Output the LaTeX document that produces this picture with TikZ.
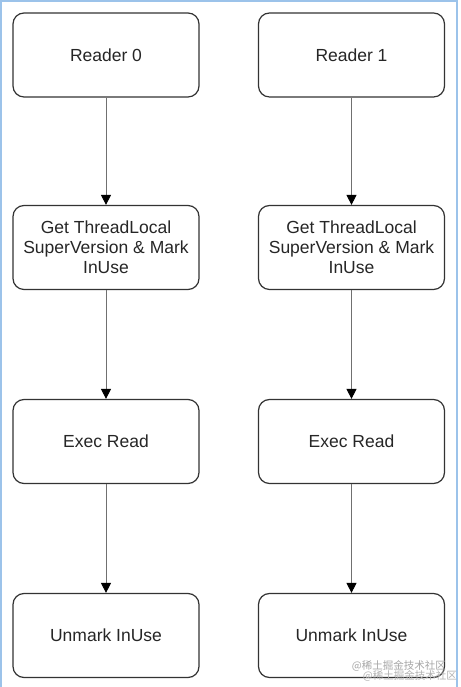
\documentclass[tikz,border=0pt]{standalone}
\usepackage{fontspec}
\setmainfont{Liberation Sans}
\newfontfamily\cjk{Noto Sans CJK SC}
\usetikzlibrary{arrows.meta}
\definecolor{framecol}{HTML}{9CC3EA}
\definecolor{boxline}{HTML}{333333}
\definecolor{arrline}{HTML}{707070}
\begin{document}
\begin{tikzpicture}[x=1pt,y=1pt,
  flowbox/.style={draw=boxline, line width=1.2pt, rounded corners=11pt,
    minimum width=186pt, minimum height=84pt, align=center, inner sep=2pt,
    font=\fontsize{17.5}{20}\selectfont, text=black!85},
  flowarrow/.style={draw=arrline, line width=1pt,
    -{Triangle[length=10pt,width=10pt,fill=black,color=black]}}]
\useasboundingbox (0,0) rectangle (460,687);
\fill[white] (0,0) rectangle (460,687);
\draw[framecol, line width=2pt] (1,0) -- (1,686) -- (457,686) -- (457,0);
% left column
\node[flowbox] (l1) at (106,632) {Reader 0};
\node[flowbox] (l2) at (106,439.5) {Get ThreadLocal\\SuperVersion \& Mark\\InUse};
\node[flowbox] (l3) at (106,245.5) {Exec Read};
\node[flowbox] (l4) at (106,51.5) {Unmark InUse};
% right column
\node[flowbox] (r1) at (351.5,632) {Reader 1};
\node[flowbox] (r2) at (351.5,439.5) {Get ThreadLocal\\SuperVersion \& Mark\\InUse};
\node[flowbox] (r3) at (351.5,245.5) {Exec Read};
\node[flowbox] (r4) at (351.5,51.5) {Unmark InUse};
\draw[flowarrow] (l1) -- (l2);
\draw[flowarrow] (l2) -- (l3);
\draw[flowarrow] (l3) -- (l4);
\draw[flowarrow] (r1) -- (r2);
\draw[flowarrow] (r2) -- (r3);
\draw[flowarrow] (r3) -- (r4);
% watermark
\node[anchor=east, text=black!35, font=\cjk\fontsize{10.5}{12}\selectfont, inner sep=0pt] (wm1) at (446,21) {@稀土掘金技术社区};
\node[anchor=east, text=black!30, font=\cjk\fontsize{10.5}{12}\selectfont, inner sep=0pt] (wm2) at (457,11) {@稀土掘金技术社区};
\end{tikzpicture}
\end{document}
